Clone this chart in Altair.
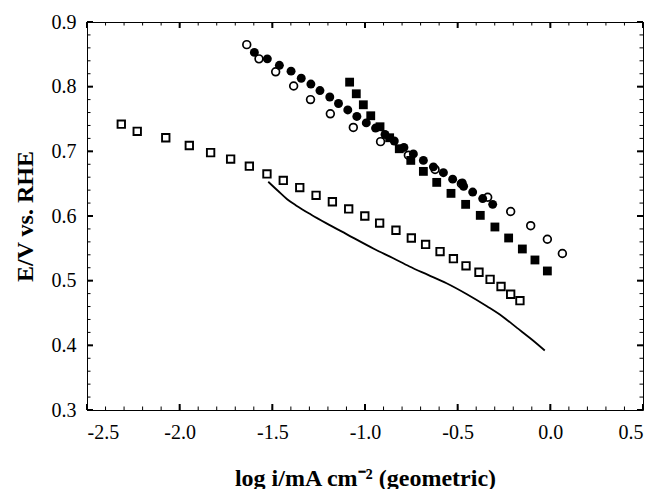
import altair as alt
import pandas as pd
import numpy as np

# Open squares
osq_x = [-2.315, -2.229, -2.075, -1.948, -1.833, -1.725, -1.624, -1.529, -1.441, -1.352,
         -1.264, -1.176, -1.088, -1.001, -0.921, -0.833, -0.750, -0.673, -0.595, -0.523,
         -0.455, -0.385, -0.325, -0.266, -0.214, -0.164]
osq_y = [0.742, 0.731, 0.721, 0.709, 0.698, 0.688, 0.677, 0.665, 0.655, 0.644,
         0.632, 0.622, 0.611, 0.600, 0.589, 0.578, 0.566, 0.556, 0.545, 0.534,
         0.523, 0.513, 0.502, 0.491, 0.479, 0.469]

# Solid line
line_x = [-1.522, -1.47, -1.42, -1.37, -1.29, -1.21, -1.10, -0.95, -0.85, -0.76,
          -0.66, -0.56, -0.45, -0.34, -0.26, -0.18, -0.10, -0.03]
line_y = [0.653, 0.639, 0.626, 0.616, 0.602, 0.589, 0.572, 0.549, 0.535, 0.522,
          0.509, 0.496, 0.479, 0.460, 0.445, 0.427, 0.409, 0.392]

# Open circles
oc_x = [-1.638, -1.572, -1.482, -1.385, -1.294, -1.187, -1.063, -0.916, -0.766, -0.622,
        -0.48, -0.338, -0.214, -0.106, -0.016, 0.065]
oc_y = [0.865, 0.843, 0.823, 0.801, 0.780, 0.758, 0.737, 0.715, 0.694, 0.672,
        0.650, 0.629, 0.607, 0.585, 0.564, 0.542]

# Filled circles
fc_x = [-1.597, -1.527, -1.462, -1.399, -1.344, -1.292, -1.243, -1.190, -1.143, -1.093,
        -1.044, -0.993, -0.943, -0.892, -0.842, -0.790, -0.739, -0.685, -0.631, -0.577,
        -0.527, -0.475, -0.468, -0.419, -0.365, -0.311]
fc_y = [0.853, 0.843, 0.833, 0.824, 0.813, 0.804, 0.794, 0.784, 0.774, 0.764,
        0.754, 0.744, 0.736, 0.726, 0.716, 0.706, 0.696, 0.686, 0.676, 0.667,
        0.657, 0.651, 0.646, 0.637, 0.627, 0.618]

# Filled squares
fsq_x = [-1.083, -1.047, -1.009, -0.969, -0.919, -0.867, -0.815, -0.753, -0.685, -0.613,
         -0.536, -0.457, -0.378, -0.299, -0.225, -0.151, -0.083, -0.016]
fsq_y = [0.807, 0.789, 0.772, 0.755, 0.738, 0.721, 0.704, 0.686, 0.669, 0.652,
         0.635, 0.618, 0.601, 0.583, 0.566, 0.549, 0.532, 0.515]

x_major = [-2.5, -2.0, -1.5, -1.0, -0.5, 0.0, 0.5]
y_major = [0.3, 0.4, 0.5, 0.6, 0.7, 0.8, 0.9]
x_minor = [round(v, 2) for v in np.arange(-2.5, 0.51, 0.1)]
y_minor = [round(v, 3) for v in np.arange(0.3, 0.901, 0.02)]

W, H = 556, 388
XD, YD = [-2.5, 0.5], [0.3, 0.9]
FONT = "Liberation Serif, Times New Roman, serif"
LBL = "replace(format(datum.value, '.1f'), '\u2212', '-')"

xs = alt.Scale(domain=XD, nice=False, zero=False)
ys = alt.Scale(domain=YD, nice=False, zero=False)

X = alt.X("x:Q", scale=xs, axis=alt.Axis(
    title="log i/mA cm\u207b\u00b2 (geometric)", values=x_major, labelExpr=LBL,
    tickSize=0, domain=False, grid=False, labelPadding=12,
    labelFont=FONT, labelFontSize=20, labelColor="black",
    titleFont=FONT, titleFontSize=24, titleFontWeight="bold", titleColor="black",
    titleBaseline="alphabetic", titleY=75))
Y = alt.Y("y:Q", scale=ys, axis=alt.Axis(
    title="E/V vs. RHE", values=y_major, labelExpr=LBL,
    tickSize=0, domain=False, grid=False, labelPadding=11,
    labelFont=FONT, labelFontSize=20, labelColor="black",
    titleFont=FONT, titleFontSize=24, titleFontWeight="bold", titleColor="black",
    titleBaseline="alphabetic", titleX=-55))

df_osq = pd.DataFrame({"x": osq_x, "y": osq_y})
df_line = pd.DataFrame({"x": line_x, "y": line_y})
df_oc = pd.DataFrame({"x": oc_x, "y": oc_y})
df_fc = pd.DataFrame({"x": fc_x, "y": fc_y})
df_fsq = pd.DataFrame({"x": fsq_x, "y": fsq_y})

base_line = alt.Chart(df_line).mark_line(color="black", strokeWidth=1.8, interpolate="monotone").encode(x=X, y=Y)
l_osq = alt.Chart(df_osq).mark_point(shape="square", filled=True, fill="white", stroke="black",
                                     strokeWidth=1.9, size=55, opacity=1).encode(x="x:Q", y="y:Q")
l_oc = alt.Chart(df_oc).mark_point(shape="circle", filled=True, fill="white", stroke="black",
                                   strokeWidth=1.7, size=60, opacity=1).encode(x="x:Q", y="y:Q")
l_fsq = alt.Chart(df_fsq).mark_point(shape="square", filled=True, color="black",
                                     size=78, opacity=1).encode(x="x:Q", y="y:Q")
l_fc = alt.Chart(df_fc).mark_point(shape="circle", filled=True, color="black",
                                   size=80, opacity=1).encode(x="x:Q", y="y:Q")

def xticks(vals, length, width):
    d = pd.DataFrame({"x": vals})
    bottom = alt.Chart(d).mark_rule(color="black", strokeWidth=width).encode(
        x="x:Q", y=alt.value(H), y2=alt.value(H - length))
    top = alt.Chart(d).mark_rule(color="black", strokeWidth=width).encode(
        x="x:Q", y=alt.value(0), y2=alt.value(length))
    return [bottom, top]

def yticks(vals, length, width):
    d = pd.DataFrame({"y": vals})
    left = alt.Chart(d).mark_rule(color="black", strokeWidth=width).encode(
        y="y:Q", x=alt.value(0), x2=alt.value(length))
    right = alt.Chart(d).mark_rule(color="black", strokeWidth=width).encode(
        y="y:Q", x=alt.value(W), x2=alt.value(W - length))
    return [left, right]

tick_layers = (xticks(x_minor, 3.5, 1) + xticks(x_major, 6, 2) +
               yticks(y_minor, 3.5, 1) + yticks(y_major, 6, 2))

chart = alt.layer(base_line, l_osq, l_oc, l_fsq, l_fc, *tick_layers).properties(
    width=W, height=H,
    autosize=alt.AutoSizeParams(type="none"),
    padding={"left": 87, "top": 22, "right": 14, "bottom": 79},
    background="white",
).configure_view(stroke="black", strokeWidth=1)

chart.save("out.html", embed_options={"renderer": "svg", "actions": False})
